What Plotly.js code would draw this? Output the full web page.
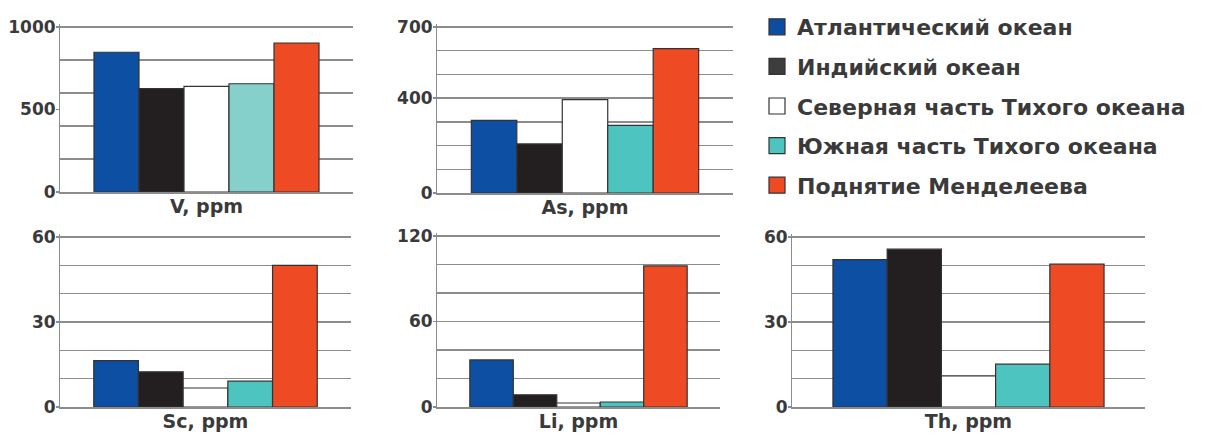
<!DOCTYPE html>
<html>
<head>
<meta charset="utf-8">
<script src="https://cdn.plot.ly/plotly-3.0.1.min.js"></script>
<style>html,body{margin:0;padding:0;background:#fff;overflow:hidden;}#chart{width:1206px;height:435px;}</style>
</head>
<body>
<div id="chart"></div>
<script>
// ---- data ----
const categories = ['V, ppm', 'As, ppm', 'Sc, ppm', 'Li, ppm', 'Th, ppm'];
const seriesNames = ['Атлантический океан', 'Индийский океан', 'Северная часть Тихого океана', 'Южная часть Тихого океана', 'Поднятие Менделеева'];
const atlantic     = [847, 306, 16.4, 33, 52];
const indian       = [626, 207, 12.4, 8.6, 55.7];
const northPacific = [640, 394, 6.7, 2.8, 11];
const southPacific = [656, 285, 9.1, 3.5, 15.1];
const mendeleev    = [903, 609, 50, 99, 50.4];
const axisMax      = [1000, 700, 60, 120, 60];
const gridStep     = [200, 100, 10, 20, 10];
const tickLabelValues = [[0, 500, 1000], [0, 400, 700], [0, 30, 60], [0, 60, 120], [0, 30, 60]];

// ---- style ----
const W = 1206, H = 435;
const PAD = 3; // px of headroom so the top grid line is drawn inside the plot
const seriesValues = [atlantic, indian, northPacific, southPacific, mendeleev];
const seriesColors = ['#0d4fa2', '#231f20', '#ffffff', '#4ec4c1', '#ee4a23'];
const legendColors = ['#0d4da1', '#3d3d3d', '#ffffff', '#4ec4c1', '#ee4a23'];
const panelColorOverride = {0: {3: '#86d0cb'}};
const panelBoxes = [ // [left, right, top, bottom] in px
  [60, 353, 27, 192],
  [437, 733, 27, 193],
  [60, 351, 237, 407],
  [437, 720, 236, 407],
  [792, 1145, 237, 407]
];
const textColor = '#3a3a3a';
const gridColor = '#8c8c8c';
const fontFam = 'DejaVu Sans, Verdana, sans-serif';

const traces = [];
const layout = {
  width: W, height: H,
  margin: {l: 0, r: 0, t: 0, b: 0},
  paper_bgcolor: '#ffffff', plot_bgcolor: 'rgba(0,0,0,0)',
  barmode: 'group', bargap: 0.232, bargroupgap: 0,
  font: {family: fontFam, color: textColor, size: 18, weight: 'bold'},
  showlegend: true,
  legend: {
    x: 757 / W, y: 1 - 6 / H, xanchor: 'left', yanchor: 'top',
    font: {family: fontFam, size: 22, color: textColor, weight: 'bold'},
    tracegroupgap: 8, bgcolor: 'rgba(0,0,0,0)', traceorder: 'grouped'
  }
};

// legend entries (marker proxies with a single empty value, for larger square symbols)
seriesNames.forEach((nm, s) => {
  traces.push({
    type: 'scatter', mode: 'markers', x: [categories[0]], y: [null], name: nm,
    xaxis: 'x', yaxis: 'y', legendgroup: 'g' + s, showlegend: true,
    marker: {symbol: 'square', size: 16, color: legendColors[s], line: {color: '#333333', width: 1.2}},
    hoverinfo: 'skip'
  });
});

categories.forEach((cat, p) => {
  const n = p + 1;
  const xa = n === 1 ? 'x' : 'x' + n;
  const ya = n === 1 ? 'y' : 'y' + n;
  const on = 'y' + (n + 5);
  const box = panelBoxes[p];
  const hpx = box[3] - box[2];
  const top = axisMax[p] * (1 + PAD / hpx);
  seriesValues.forEach((vals, s) => {
    const col = (panelColorOverride[p] && panelColorOverride[p][s]) || seriesColors[s];
    traces.push({
      type: 'bar', x: [cat], y: [vals[p]], name: seriesNames[s],
      xaxis: xa, yaxis: ya, legendgroup: 'g' + s, showlegend: false,
      marker: {color: col, line: {color: '#333333', width: 1.2}},
      hoverinfo: 'y'
    });
  });
  // placeholder trace so the label axis is drawn
  traces.push({type: 'scatter', mode: 'markers', x: [], y: [], xaxis: xa, yaxis: on, showlegend: false, hoverinfo: 'skip'});
  layout['xaxis' + (n === 1 ? '' : n)] = {
    domain: [box[0] / W, box[1] / W], anchor: ya, type: 'category',
    showline: true, linecolor: gridColor, linewidth: 1.5,
    ticks: '', showgrid: false, fixedrange: true,
    tickfont: {family: fontFam, size: 19, color: textColor, weight: 'bold'},
    ticklabelstandoff: -3
  };
  layout['yaxis' + (n === 1 ? '' : n)] = {
    domain: [1 - box[3] / H, 1 - (box[2] - PAD) / H], anchor: xa,
    range: [0, top], tick0: 0, dtick: gridStep[p],
    showgrid: true, gridcolor: gridColor, gridwidth: 1.5,
    showticklabels: false, ticks: '', zeroline: false,
    showline: true, linecolor: gridColor, linewidth: 1.5, fixedrange: true
  };
  layout['yaxis' + (n + 5)] = {
    overlaying: ya, anchor: xa, side: 'left',
    range: [0, top], tickmode: 'array', tickvals: tickLabelValues[p],
    showgrid: false, zeroline: false, showline: false,
    ticks: 'outside', ticklen: 3, tickcolor: gridColor, tickwidth: 1.5,
    tickfont: {family: fontFam, size: 17, color: textColor, weight: 'bold'},
    ticklabelstandoff: -3, fixedrange: true
  };
});

Plotly.newPlot('chart', traces, layout, {displayModeBar: false, staticPlot: true});
</script>
</body>
</html>
